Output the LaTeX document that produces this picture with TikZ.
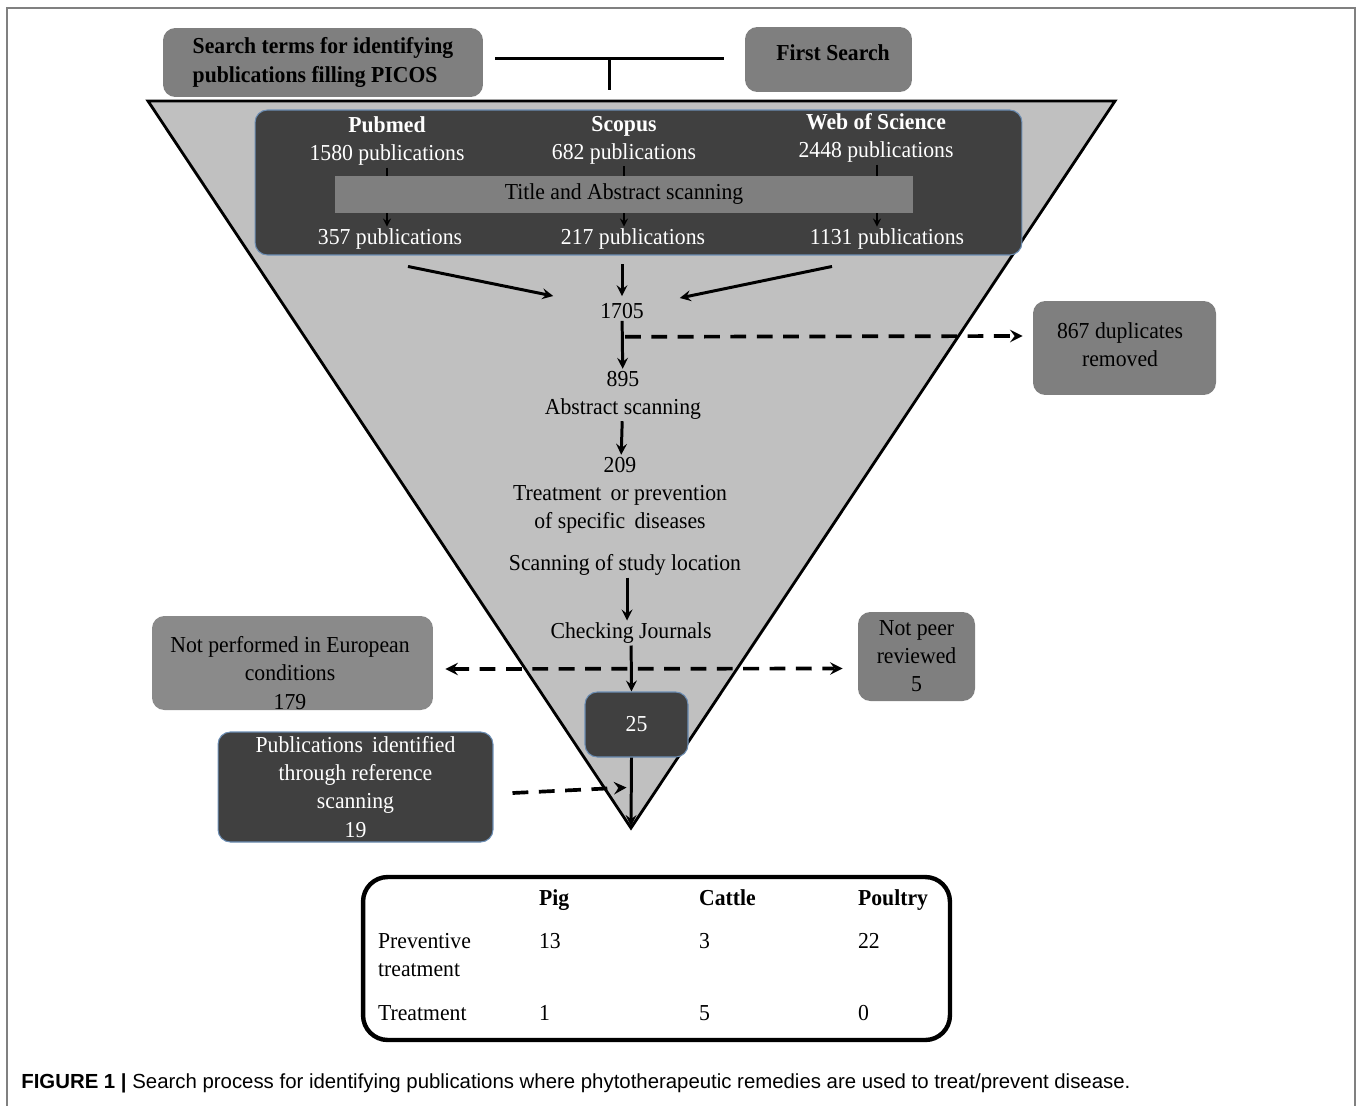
\documentclass[tikz,border=0pt]{standalone}
\usepackage{fontspec}
\setmainfont[FakeStretch=0.95]{Liberation Serif}
\setsansfont{Liberation Sans}
\usetikzlibrary{calc}

\definecolor{funnel}{HTML}{C0C0C0}
\definecolor{midgrey}{HTML}{7F7F7F}
\definecolor{lightgrey}{HTML}{8A8A8A}
\definecolor{darkgrey}{HTML}{404040}
\definecolor{edgeblue}{HTML}{6C8EB4}

\tikzset{
  flow/.style={draw=black,line width=1.7pt,-stealth},
  thin flow/.style={draw=black,line width=1pt,-stealth},
  skip/.style={draw=black,line width=2.1pt,dash pattern=on 9pt off 6pt,-stealth},
  greybox/.style={fill=midgrey,rounded corners=7pt,align=center,inner sep=2pt},
  darkbox/.style={fill=darkgrey,draw=edgeblue,line width=0.6pt,rounded corners=7pt,align=center,text=white,inner sep=2pt},
  label/.style={inner sep=1pt,align=center},
  cell/.style={inner sep=1pt,anchor=base west}
}
\tikzstyle{every node}=[font=\fontsize{13}{16}\selectfont]

\begin{document}
\begin{tikzpicture}[x=0.02cm,y=-0.02cm]
    \useasboundingbox (0,0) rectangle (1358,1105);
    \draw [draw=gray,line width=1.2pt] (7,8) rectangle (1355,1112);

    % funnel
    \draw [fill=funnel,line width=1.6pt] (148,101) -- (1115,101) -- (631,828) -- cycle;
    \coordinate (apex) at (631,826);

    % first search
    \node [greybox,align=left,minimum width=6.4cm,minimum height=1.38cm] (terms) at (323,62.5)
        {\textbf{Search terms for identifying}\\\textbf{publications filling PICOS}};
    \node [greybox,minimum width=3.34cm,minimum height=1.3cm] (first) at (828.5,59.5) {};
    \node [label] (firsttext) at (833,53) {\textbf{First Search}};
    \draw [line width=1.6pt] ($(terms.east)+(12,-4)$) -- coordinate (join) ($(first.west)+(-21,-1)$);
    \draw [line width=1.6pt] (join) -- ++(0,32);

    % databases
    \node [darkbox,minimum width=15.34cm,minimum height=2.9cm] (db) at (638.5,182.5) {};
    \node [label,text=white] (pubmed) at (387,141) {\textbf{Pubmed}\\1580 publications};
    \node [label,text=white] (scopus) at (624,140) {\textbf{Scopus}\\682 publications};
    \node [label,text=white] (wos) at (876,138) {\textbf{Web of Science}\\2448 publications};
    \node [label,text=white] (k357) at (390,239) {357 publications};
    \node [label,text=white] (k217) at (633,239) {217 publications};
    \node [label,text=white] (k1131) at (887,239) {1131 publications};
    \draw [thin flow] (pubmed.south) -- (pubmed.south |- k357.north);
    \draw [thin flow] (scopus.south) -- (scopus.south |- k217.north);
    \draw [thin flow] ($(wos.south)+(1,0)$) -- ($(wos.south |- k1131.north)+(1,0)$);
    \node [fill=midgrey,minimum width=11.56cm,minimum height=0.74cm,inner sep=0pt] (title) at (624,194.5)
        {Title and Abstract scanning};

    % funnel steps
    \node [label] (n1705) at (622,311) {1705};
    \node [label] (n895) at (623,395) {895\\Abstract scanning};
    \node [label] (n209) at (620,495) {209\\Treatment\, or prevention\\of specific\, diseases};
    \node [label] (study) at (625,565) {Scanning of study location};
    \node [label] (journals) at (631,633) {Checking Journals};
    \node [darkbox,minimum width=2.06cm,minimum height=1.3cm] (final) at (636.5,724.5) {25};

    \draw [flow] ($(k357.south)+(18,15)$) -- ($(n1705.west)+(-45,-15)$);
    \draw [flow] ($(k217.south)+(-11,13)$) -- ($(n1705.north)+(0,-5)$);
    \draw [flow] ($(k1131.south)+(-55,15)$) -- ($(n1705.east)+(34,-13)$);
    \draw [flow] (n1705) -- (n895);
    \draw [flow] (n895) -- (n209);
    \draw [flow] ($(study.south)+(2,0)$) -- ($(journals.north)+(-4,0)$);
    \draw [flow] (journals) -- ($(final.north)+(-5,0)$);
    \draw [flow] ($(final.south)+(-5,0)$) -- (apex);

    % excluded and added
    \node [greybox,minimum width=3.66cm,minimum height=1.88cm] (dup) at (1124.5,348) {};
    \node [label] (duptext) at (1120,345) {867 duplicates\\removed};
    \node [greybox,fill=lightgrey,minimum width=5.62cm,minimum height=1.88cm] (europe) at (292.5,663) {};
    \node [label] (europetext) at (290,673) {Not performed in European\\conditions\\179};
    \node [greybox,minimum width=2.34cm,minimum height=1.78cm] (peer) at (916.5,656.5) {Not peer\\reviewed\\5};
    \node [darkbox,minimum width=5.5cm,minimum height=2.2cm] (refs) at (355.5,787)
        {Publications\, identified\\through reference\\scanning\\19};

    \draw [skip] ($(n1705.south)+(3,16)$) -- ($(dup.west)+(-10,-12)$);
    \draw [skip,stealth-stealth] ($(europe.east)+(12,6)$) -- ($(peer.west)+(-15,12)$);
    \draw [skip] ($(refs.east)+(19,6)$) -- ($(final.south)+(-10,30)$);

    % result table
    \node [draw=black,line width=2.5pt,rounded corners=14pt,minimum width=11.74cm,minimum height=3.26cm] (tab) at (656.5,958.5) {};
    \node [cell] (hpig) at (537,905) {\textbf{Pig}};
    \node [cell] (hcattle) at (697,905) {\textbf{Cattle}};
    \node [cell] (hpoultry) at (856,905) {\textbf{Poultry}};
    \node [cell] (rprev) at (376,948) {Preventive};
    \node [cell] (rprevb) at (376,976) {treatment};
    \node [cell] (rtreat) at (376,1020) {Treatment};
    \node [cell] (p13) at (537,948) {13};
    \node [cell] (c3) at (697,948) {3};
    \node [cell] (y22) at (856,948) {22};
    \node [cell] (p1) at (537,1020) {1};
    \node [cell] (c5) at (697,1020) {5};
    \node [cell] (y0) at (856,1020) {0};

    % caption
    \node [anchor=west,inner sep=0pt,font=\sffamily\fontsize{11.6}{13}\selectfont] (caption) at (21,1083)
        {\textbf{FIGURE 1 \textbar} Search process for identifying publications where phytotherapeutic remedies are used to treat/prevent disease.};
\end{tikzpicture}
\end{document}
